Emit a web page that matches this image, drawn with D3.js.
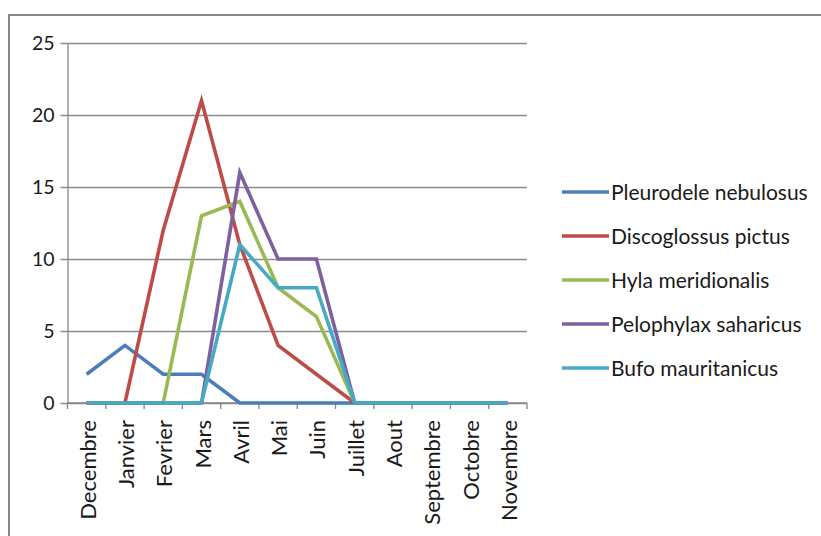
<!DOCTYPE html>
<html>
<head>
<meta charset="utf-8">
<script src="https://cdn.jsdelivr.net/npm/d3@7"></script>
<style>
  html, body { margin: 0; padding: 0; background: #ffffff; }
  svg { display: block; }
  text { font-family: Lato, "Open Sans", sans-serif; fill: #1a1a1a; }
</style>
</head>
<body>
<svg id="chart" width="821" height="536"></svg>
<script>
// Monthly counts per species
const months = ["Decembre", "Janvier", "Fevrier", "Mars", "Avril", "Mai", "Juin",
                "Juillet", "Aout", "Septembre", "Octobre", "Novembre"];
const speciesNames = ["Pleurodele nebulosus", "Discoglossus pictus", "Hyla meridionalis",
                      "Pelophylax saharicus", "Bufo mauritanicus"];
const pleurodele   = [2, 4, 2, 2, 0, 0, 0, 0, 0, 0, 0, 0];
const discoglossus = [0, 0, 12, 21, 11, 4, 2, 0, 0, 0, 0, 0];
const hyla         = [0, 0, 0, 13, 14, 8, 6, 0, 0, 0, 0, 0];
const pelophylax   = [0, 0, 0, 0, 16, 10, 10, 0, 0, 0, 0, 0];
const bufo         = [0, 0, 0, 0, 11, 8, 8, 0, 0, 0, 0, 0];
const yTicks = [0, 5, 10, 15, 20, 25];
const colors = ["#4a7ebb", "#be4b48", "#98b954", "#7d60a0", "#46aac5"];

const seriesValues = [pleurodele, discoglossus, hyla, pelophylax, bufo];
const series = speciesNames.map((name, i) => ({ name, values: seriesValues[i], color: colors[i] }));

const svg = d3.select("#chart");

// Outer chart frame
svg.append("rect")
  .attr("x", 9).attr("y", 15)
  .attr("width", 830).attr("height", 540)
  .attr("fill", "none").attr("stroke", "#878787").attr("stroke-width", 2);

const plot = { left: 67.5, right: 527, top: 43, bottom: 403 };

const x = d3.scaleBand().domain(months).range([plot.left, plot.right]).padding(0);
const y = d3.scaleLinear().domain([0, 25]).range([plot.bottom, plot.top]);

// Horizontal gridlines with the y axis
const yAxis = d3.axisLeft(y).tickValues(yTicks)
  .tickSize(-(plot.right - plot.left)).tickSizeOuter(0).tickPadding(13);
const gy = svg.append("g").attr("transform", `translate(${plot.left},0)`).call(yAxis);
gy.select(".domain").attr("stroke", "#868686").attr("stroke-width", 1.3);
gy.selectAll(".tick line")
  .attr("stroke", "#8c8c8c").attr("stroke-width", 1.3)
  .attr("x1", -7);
gy.selectAll(".tick text")
  .style("font-size", "19.5px").attr("fill", "#1a1a1a");

// Category axis with tick marks at band edges
const gx = svg.append("g").attr("transform", `translate(0,${plot.bottom})`);
gx.append("line")
  .attr("x1", plot.left).attr("x2", plot.right)
  .attr("stroke", "#868686").attr("stroke-width", 1.3);
const edges = months.map(m => x(m)).concat([x.range()[1]]);
gx.selectAll("line.edge").data(edges).join("line")
  .attr("class", "edge")
  .attr("x1", d => d).attr("x2", d => d)
  .attr("y1", 0).attr("y2", 6)
  .attr("stroke", "#868686").attr("stroke-width", 1.3);
gx.selectAll("text.month").data(months).join("text")
  .attr("class", "month")
  .attr("transform", d => `translate(${x(d) + x.bandwidth() / 2 + 9},${17}) rotate(-90)`)
  .attr("text-anchor", "end")
  .style("font-size", "22px")
  .text(d => d);

// Series lines
const line = d3.line()
  .x((d, i) => x(months[i]) + x.bandwidth() / 2)
  .y(d => y(d));

svg.append("g").selectAll("path").data(series).join("path")
  .attr("d", d => line(d.values))
  .attr("fill", "none")
  .attr("stroke", d => d.color)
  .attr("stroke-width", 3.6)
  .attr("stroke-linejoin", "miter")
  .attr("stroke-linecap", "butt");

// Legend
const legendY = d3.scalePoint().domain(speciesNames).range([192, 368]);
const legend = svg.append("g");
const items = legend.selectAll("g").data(series).join("g")
  .attr("transform", d => `translate(0,${legendY(d.name)})`);
items.append("line")
  .attr("x1", 562).attr("x2", 609)
  .attr("stroke", d => d.color).attr("stroke-width", 3.6);
items.append("text")
  .attr("x", 611).attr("y", 0)
  .attr("dy", "0.36em")
  .style("font-size", "21px")
  .text(d => d.name);
</script>
</body>
</html>
